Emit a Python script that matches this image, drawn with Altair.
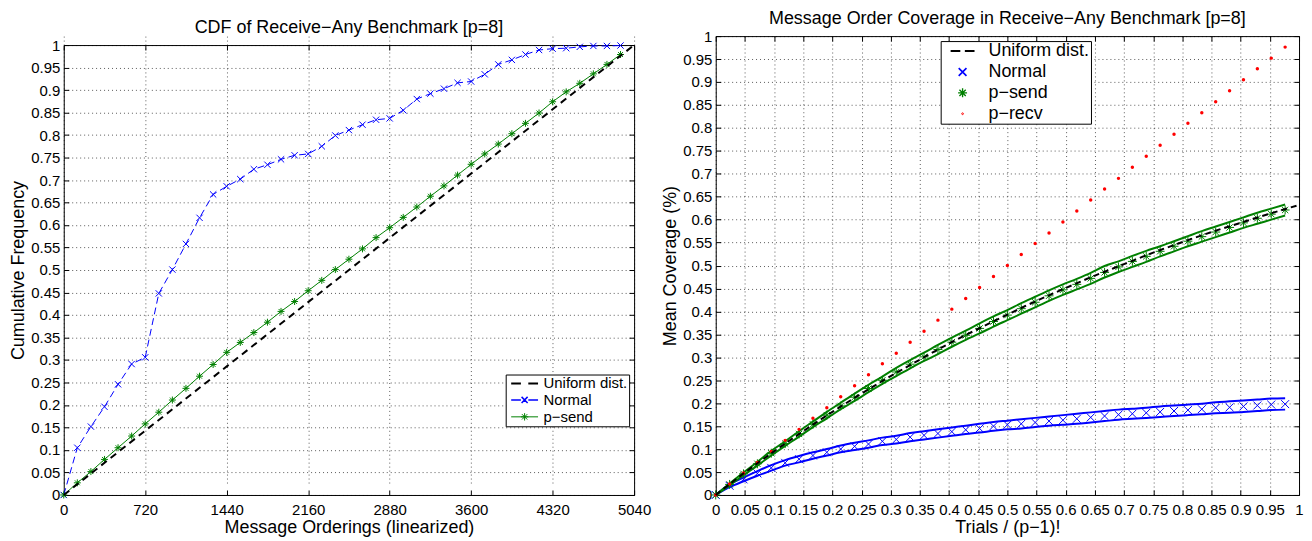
import altair as alt
import pandas as pd

FONT = "Liberation Sans"
BLACK = "#000000"
BLUE = "#0000ff"
GREEN = "#008000"
RED = "#ff0000"

# ---------------- left panel: CDF of Receive-Any Benchmark ----------------
ORDERINGS = [0, 120, 240, 360, 480, 600, 720, 840, 960, 1080, 1200, 1320, 1440, 1560,
             1680, 1800, 1920, 2040, 2160, 2280, 2400, 2520, 2640, 2760, 2880, 3000,
             3120, 3240, 3360, 3480, 3600, 3720, 3840, 3960, 4080, 4200, 4320, 4440,
             4560, 4680, 4800, 4920]
CDF_NORMAL = [0, 0.105, 0.152, 0.196, 0.246, 0.291, 0.306, 0.448, 0.501, 0.558, 0.616,
              0.668, 0.686, 0.702, 0.724, 0.734, 0.746, 0.755, 0.758, 0.775, 0.799, 0.811,
              0.823, 0.834, 0.837, 0.855, 0.880, 0.892, 0.903, 0.916, 0.919, 0.935, 0.957,
              0.967, 0.979, 0.989, 0.992, 0.993, 0.996, 0.998, 0.998, 0.999]
CDF_PSEND = [0, 0.027, 0.052, 0.079, 0.105, 0.131, 0.158, 0.184, 0.211, 0.237, 0.264,
             0.290, 0.317, 0.339, 0.361, 0.384, 0.408, 0.430, 0.454, 0.477, 0.501, 0.524,
             0.547, 0.572, 0.594, 0.617, 0.640, 0.664, 0.687, 0.711, 0.735, 0.758, 0.780,
             0.803, 0.826, 0.849, 0.874, 0.896, 0.915, 0.936, 0.957, 0.979]
UNIFORM_CDF_X = [0, 5040]
UNIFORM_CDF_Y = [0, 1]
CDF_X_TICKS = [0, 720, 1440, 2160, 2880, 3600, 4320, 5040]
LEFT_SERIES = ["Uniform dist.", "Normal", "p\u2212send"]

# ---------------- right panel: Message Order Coverage ----------------
TOTAL_ORDERINGS = 5040
FRAC_TICKS = [0, 0.05, 0.1, 0.15, 0.2, 0.25, 0.3, 0.35, 0.4, 0.45, 0.5, 0.55, 0.6,
              0.65, 0.7, 0.75, 0.8, 0.85, 0.9, 0.95, 1]
COV_NORMAL = [0, 0.020, 0.034, 0.047, 0.059, 0.070, 0.078, 0.086, 0.093, 0.100, 0.106,
              0.111, 0.117, 0.121, 0.126, 0.130, 0.134, 0.138, 0.142, 0.145, 0.150, 0.153,
              0.155, 0.158, 0.161, 0.163, 0.166, 0.169, 0.172, 0.175, 0.177, 0.179, 0.181,
              0.183, 0.185, 0.187, 0.190, 0.191, 0.193, 0.195, 0.197, 0.198]
COV_NORMAL_HI = [0, 0.023, 0.038, 0.052, 0.065, 0.076, 0.085, 0.093, 0.100, 0.108, 0.114,
                 0.119, 0.125, 0.129, 0.135, 0.139, 0.143, 0.147, 0.151, 0.155, 0.159, 0.162,
                 0.165, 0.168, 0.171, 0.174, 0.177, 0.180, 0.183, 0.186, 0.188, 0.190, 0.193,
                 0.195, 0.197, 0.199, 0.202, 0.204, 0.206, 0.208, 0.210, 0.211]
COV_NORMAL_LO = [0, 0.017, 0.030, 0.042, 0.053, 0.064, 0.071, 0.079, 0.086, 0.093, 0.098,
                 0.103, 0.109, 0.112, 0.117, 0.121, 0.125, 0.129, 0.133, 0.136, 0.140, 0.143,
                 0.145, 0.148, 0.151, 0.153, 0.155, 0.158, 0.161, 0.164, 0.166, 0.168, 0.170,
                 0.172, 0.174, 0.176, 0.178, 0.179, 0.181, 0.183, 0.185, 0.186]
COV_PSEND = [0, 0.023, 0.046, 0.068, 0.091, 0.112, 0.133, 0.154, 0.174, 0.194, 0.213,
             0.232, 0.250, 0.268, 0.285, 0.301, 0.317, 0.333, 0.348, 0.363, 0.378, 0.392,
             0.406, 0.420, 0.434, 0.447, 0.459, 0.472, 0.485, 0.497, 0.509, 0.520, 0.531,
             0.542, 0.553, 0.563, 0.573, 0.583, 0.593, 0.603, 0.612, 0.621]
COV_PSEND_HI = [0, 0.025, 0.049, 0.072, 0.096, 0.117, 0.139, 0.160, 0.181, 0.201, 0.221,
                0.240, 0.258, 0.277, 0.294, 0.310, 0.327, 0.343, 0.358, 0.374, 0.389, 0.403,
                0.418, 0.432, 0.446, 0.459, 0.471, 0.484, 0.499, 0.509, 0.521, 0.532, 0.542,
                0.553, 0.564, 0.575, 0.585, 0.595, 0.605, 0.615, 0.624, 0.633]
COV_PSEND_LO = [0, 0.021, 0.043, 0.064, 0.086, 0.107, 0.127, 0.148, 0.167, 0.187, 0.205,
                0.224, 0.242, 0.259, 0.276, 0.292, 0.307, 0.323, 0.338, 0.352, 0.367, 0.381,
                0.395, 0.409, 0.423, 0.436, 0.448, 0.460, 0.474, 0.486, 0.497, 0.508, 0.520,
                0.531, 0.542, 0.552, 0.562, 0.572, 0.582, 0.591, 0.600, 0.609]
COV_PRECV = [0, 0.024, 0.048, 0.071, 0.095, 0.119, 0.143, 0.167, 0.190, 0.214, 0.238,
             0.262, 0.286, 0.309, 0.333, 0.357, 0.381, 0.405, 0.428, 0.452, 0.476, 0.500,
             0.524, 0.548, 0.571, 0.595, 0.619, 0.643, 0.667, 0.690, 0.714, 0.738, 0.762,
             0.786, 0.810, 0.833, 0.857, 0.881, 0.905, 0.929, 0.952, 0.976]
UNIFORM_COV_X = FRAC_TICKS
UNIFORM_COV_Y = [0, 0.049, 0.095, 0.139, 0.181, 0.221, 0.259, 0.295, 0.330, 0.362, 0.393,
                 0.423, 0.451, 0.478, 0.503, 0.528, 0.551, 0.573, 0.593, 0.613, 0.632]
RIGHT_SERIES = ["Uniform dist.", "Normal", "p\u2212send", "p\u2212recv"]

# ---------------- marker glyphs ----------------
X_PATH = "M-1,-1L1,1M-1,1L1,-1"
AST_PATH = "M0,-1V1M-1,0H1M-0.7,-0.7L0.7,0.7M-0.7,0.7L0.7,-0.7"
LEG_L_PATHS = [
    "M-2,0H-0.55M0.55,0H2",
    "M-2,0H-0.55M0.55,0H2M-0.45,-0.45L0.45,0.45M-0.45,0.45L0.45,-0.45",
    "M-2,0H2M0,-0.55V0.55M-0.55,0H0.55M-0.4,-0.4L0.4,0.4M-0.4,0.4L0.4,-0.4",
]
LEG_R_PATHS = [
    "M-2,0H-0.38M0.38,0H2",
    "M-0.65,-0.65L0.65,0.65M-0.65,0.65L0.65,-0.65",
    "M0,-0.75V0.75M-0.75,0H0.75M-0.53,-0.53L0.53,0.53M-0.53,0.53L0.53,-0.53",
    "M-0.15,0A0.15,0.15 0 1,0 0.15,0A0.15,0.15 0 1,0 -0.15,0",
]

# panel geometry: both panels share a 461 px tall group; the left plot frame starts LEFT_TOP lower
PANEL_H = 461
LEFT_TOP = 9

GRID = dict(grid=True, gridColor=BLACK, gridOpacity=0.65, gridDash=[1, 3], gridWidth=1)


def x_main(title, values, fmt):
    return alt.Axis(orient="bottom", values=values, format=fmt, title=title, offset=-5,
                    tickSize=5, tickColor=BLACK, tickWidth=1, domain=False,
                    labelFlush=False, labelOverlap=False, labelPadding=8,
                    labelFontSize=15, titleFontSize=18, titlePadding=1, **GRID)


def y_main(title, values):
    return alt.Axis(orient="left", values=values, format="~g", title=title, offset=-5,
                    tickSize=5, tickColor=BLACK, tickWidth=1, domain=False,
                    labelFlush=False, labelOverlap=False, labelPadding=4,
                    labelFontSize=15, titleFontSize=18, titlePadding=3, **GRID)


def tick_axis(orient, values, offset=-5):
    return alt.Axis(orient=orient, values=values, offset=offset, tickSize=5, tickColor=BLACK,
                    tickWidth=1, labels=False, domain=False, grid=False, title=None)


def frame_axis(orient, offset=0):
    return alt.Axis(orient=orient, offset=offset, domain=True, domainColor=BLACK, domainWidth=1,
                    ticks=False, labels=False, grid=False, title=None)


def make_legend(x, y, size, fsize, sym_off, lab_off, row_pad):
    return alt.Legend(title=None, orient="none", legendX=x, legendY=y, direction="vertical",
                      fillColor="white", strokeColor=BLACK, padding=1, symbolOpacity=1,
                      symbolSize=size, symbolOffset=sym_off, labelOffset=lab_off,
                      rowPadding=row_pad, labelFontSize=fsize, labelFont=FONT,
                      labelColor=BLACK, labelLimit=400)


# ================= left chart =================
xs_l = alt.Scale(domain=[0, 5040], nice=False, zero=False)
ys_l = alt.Scale(domain=[0, 1], nice=False, zero=False, range=[PANEL_H, LEFT_TOP])
normal_df = pd.DataFrame({"x": ORDERINGS, "y": CDF_NORMAL})
send_df = pd.DataFrame({"x": ORDERINGS, "y": CDF_PSEND})
unif_df = pd.DataFrame({"x": UNIFORM_CDF_X, "y": UNIFORM_CDF_Y})
leg_l_df = pd.DataFrame({"series": LEFT_SERIES,
                         "x": [UNIFORM_CDF_X[0], ORDERINGS[0], ORDERINGS[0]],
                         "y": [UNIFORM_CDF_Y[0], CDF_NORMAL[0], CDF_PSEND[0]]})


def xl(axis=None):
    return alt.X("x:Q", scale=xs_l, axis=axis)


def yl(axis=None):
    return alt.Y("y:Q", scale=ys_l, axis=axis)


l_normal_line = alt.Chart(normal_df).mark_line(color=BLUE, strokeWidth=1, strokeDash=[7, 4]).encode(
    x=xl(x_main("Message Orderings (linearized)", CDF_X_TICKS, "d")),
    y=yl(y_main("Cumulative Frequency", FRAC_TICKS)))
l_normal_pts = alt.Chart(normal_df).mark_point(shape=X_PATH, size=40, filled=False, color=BLUE,
                                               strokeWidth=1, opacity=1).encode(
    x=xl(frame_axis("bottom")), y=yl(frame_axis("left")))
l_send_line = alt.Chart(send_df).mark_line(color=GREEN, strokeWidth=1).encode(
    x=xl(tick_axis("top", CDF_X_TICKS, -(LEFT_TOP + 5))), y=yl(tick_axis("right", FRAC_TICKS)))
l_send_pts = alt.Chart(send_df).mark_point(shape=AST_PATH, size=49, filled=False, color=GREEN,
                                           strokeWidth=1, opacity=1).encode(
    x=xl(frame_axis("top", -LEFT_TOP)), y=yl(frame_axis("right")))
l_unif = alt.Chart(unif_df).mark_line(color=BLACK, strokeWidth=2, strokeDash=[7, 5]).encode(
    x=xl(), y=yl())
leg_l = make_legend(444, 331 + LEFT_TOP, 182, 15, 10, 11, 1)
l_legend = alt.Chart(leg_l_df).mark_point(opacity=0, filled=False).encode(
    x=xl(), y=yl(),
    color=alt.Color("series:N", scale=alt.Scale(domain=LEFT_SERIES, range=[BLACK, BLUE, GREEN]), legend=leg_l),
    shape=alt.Shape("series:N", scale=alt.Scale(domain=LEFT_SERIES, range=LEG_L_PATHS), legend=leg_l),
    strokeWidth=alt.StrokeWidth("series:N", scale=alt.Scale(domain=LEFT_SERIES, range=[2, 1, 1]), legend=leg_l),
)

left = alt.layer(l_normal_line, l_normal_pts, l_send_line, l_send_pts, l_unif, l_legend).resolve_axis(
    x="independent", y="independent").properties(
    width=573, height=PANEL_H,
    view=alt.ViewBackground(stroke="transparent"),
    title=alt.TitleParams(text="CDF of Receive\u2212Any Benchmark [p=8]", fontSize=18,
                          font=FONT, fontWeight="normal", color=BLACK, frame="group",
                          anchor="middle", offset=1, dy=2))

# ================= right chart =================
xs_r = alt.Scale(domain=[0, 1], nice=False, zero=False)
ys_r = alt.Scale(domain=[0, 1], nice=False, zero=False)
frac = [t / TOTAL_ORDERINGS for t in ORDERINGS]
r_df = pd.DataFrame({"x": frac, "normal": COV_NORMAL, "normal_hi": COV_NORMAL_HI,
                     "normal_lo": COV_NORMAL_LO, "send": COV_PSEND, "send_hi": COV_PSEND_HI,
                     "send_lo": COV_PSEND_LO, "recv": COV_PRECV})
r_unif_df = pd.DataFrame({"x": UNIFORM_COV_X, "y": UNIFORM_COV_Y})
leg_r_df = pd.DataFrame({"series": RIGHT_SERIES,
                         "x": [UNIFORM_COV_X[0], frac[0], frac[0], frac[0]],
                         "y": [UNIFORM_COV_Y[0], COV_NORMAL[0], COV_PSEND[0], COV_PRECV[0]]})


def xr(axis=None):
    return alt.X("x:Q", scale=xs_r, axis=axis)


def yr(field, axis=None):
    return alt.Y(f"{field}:Q", scale=ys_r, axis=axis)


base_r = alt.Chart(r_df)
r_nhi = base_r.mark_line(color=BLUE, strokeWidth=2, interpolate="monotone").encode(
    x=xr(x_main("Trials / (p\u22121)!", FRAC_TICKS, "~g")),
    y=yr("normal_hi", y_main("Mean Coverage (%)", FRAC_TICKS)))
r_nlo = base_r.mark_line(color=BLUE, strokeWidth=2, interpolate="monotone").encode(
    x=xr(tick_axis("top", FRAC_TICKS)), y=yr("normal_lo", tick_axis("right", FRAC_TICKS)))
r_npts = base_r.mark_point(shape=X_PATH, size=64, filled=False, color=BLUE, strokeWidth=1,
                           opacity=1).encode(x=xr(), y=yr("normal"))
r_shi = base_r.mark_line(color=GREEN, strokeWidth=2, interpolate="monotone").encode(x=xr(), y=yr("send_hi"))
r_slo = base_r.mark_line(color=GREEN, strokeWidth=2, interpolate="monotone").encode(x=xr(), y=yr("send_lo"))
r_spts = base_r.mark_point(shape=AST_PATH, size=81, filled=False, color=GREEN, strokeWidth=1,
                           opacity=1).encode(x=xr(), y=yr("send"))
r_recv = base_r.mark_circle(size=12, color=RED, opacity=1).encode(x=xr(), y=yr("recv"))
r_unif = alt.Chart(r_unif_df).mark_line(color=BLACK, strokeWidth=2, strokeDash=[6, 4],
                                        interpolate="monotone").encode(x=xr(), y=yr("y"))
leg_r = make_legend(226, 5, 144, 18, 12, 17, 3)
r_legend = alt.Chart(leg_r_df).mark_point(opacity=0, filled=False).encode(
    x=xr(), y=yr("y"),
    color=alt.Color("series:N", scale=alt.Scale(domain=RIGHT_SERIES, range=[BLACK, BLUE, GREEN, RED]), legend=leg_r),
    shape=alt.Shape("series:N", scale=alt.Scale(domain=RIGHT_SERIES, range=LEG_R_PATHS), legend=leg_r),
    strokeWidth=alt.StrokeWidth("series:N", scale=alt.Scale(domain=RIGHT_SERIES, range=[2, 1, 1, 1.6]), legend=leg_r),
)

right = alt.layer(r_nhi, r_nlo, r_npts, r_shi, r_slo, r_spts, r_recv, r_unif, r_legend).resolve_axis(
    x="independent", y="independent").properties(
    width=586, height=PANEL_H,
    title=alt.TitleParams(text="Message Order Coverage in Receive\u2212Any Benchmark [p=8]",
                          fontSize=18, font=FONT, fontWeight="normal", color=BLACK,
                          frame="group", anchor="middle", offset=1))

chart = alt.hconcat(left, right, spacing=9).resolve_scale(
    color="independent", shape="independent", strokeWidth="independent").properties(
    padding={"left": 1, "top": 0, "right": 0, "bottom": 0}
).configure(font=FONT).configure_view(stroke=BLACK, strokeWidth=1).configure_axis(
    labelFont=FONT, titleFont=FONT, labelColor=BLACK, titleColor=BLACK, titleFontWeight="normal")

chart.save("out.html", embed_options={"renderer": "svg", "actions": False})
